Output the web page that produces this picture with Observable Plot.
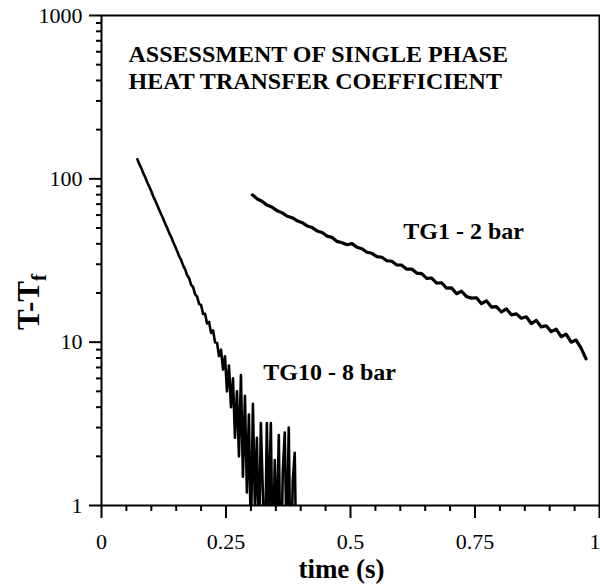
<!DOCTYPE html>
<html>
<head>
<meta charset="utf-8">
<script src="https://cdn.jsdelivr.net/npm/d3@7"></script>
<script src="https://cdn.jsdelivr.net/npm/@observablehq/plot@0.6"></script>
<style>
  html, body { margin: 0; padding: 0; background: #fff; overflow: hidden; }
  #chart { width: 600px; height: 588px; }
</style>
</head>
<body>
<div id="chart"></div>
<script>
// ---- data ----
// TG1 - 2 bar : samples every 0.01 s starting at t = 0.303 s
const tg1Start = 0.303, tg1Step = 0.01;
const tg1Values = [79.8, 75.2, 72.6, 68.8, 66.9, 63.7, 61.9, 59.0, 57.8, 55.3,
  53.9, 51.5, 50.3, 48.0, 46.9, 44.6, 43.8, 41.4, 40.6, 39.5,
  40.1, 38.1, 37.3, 35.5, 35.0, 33.4, 33.1, 31.5, 31.3, 29.7,
  29.6, 28.0, 28.0, 26.5, 26.3, 24.6, 24.7, 23.0, 23.1, 21.4,
  21.5, 19.8, 20.5, 19.0, 18.6, 18.7, 17.2, 17.9, 16.4, 16.5,
  15.3, 16.0, 14.7, 14.9, 14.0, 14.3, 13.0, 13.6, 12.4, 12.6,
  11.6, 12.0, 10.8, 11.2, 10.0, 10.3, 9.2, 7.9];

// TG10 - 8 bar : samples every 0.004 s starting at t = 0.072 s
const tg10Start = 0.072, tg10Step = 0.004;
const tg10Values = [132, 123, 116, 108, 102, 95, 89.5, 84, 78, 73.5,
  69, 64.5, 60.5, 57, 53, 50, 46.5, 44, 41, 38.5,
  36, 33.5, 31.8, 29.4, 27.9, 25.7, 24.6, 22.4, 21.7, 19.6,
  19.0, 17.1, 16.9, 14.9, 14.9, 13.0, 13.3, 11.4, 11.8, 10.0,
  9.9, 8.2, 9.0, 6.8, 8.2, 5.0, 7.2, 4.0, 6.0, 2.6,
  5.0, 2.0, 6.3, 1.5, 4.7, 1.2, 3.6, 0.6, 4.2, 1.0,
  2.6, 0.5, 3.2, 1.2, 0.4, 3.2, 0.8, 3.2, 0.4, 1.9,
  0.6, 2.7, 0.3, 1.6, 2.8, 0.5, 3.0, 0.3, 1.4, 2.1, 0.3];

const xTicks = [0, 0.25, 0.5, 0.75, 1];
const xTickLabels = ["0", "0.25", "0.5", "0.75", "1"];
const xMinorTicks = [0.05, 0.1, 0.15, 0.2, 0.3, 0.35, 0.4, 0.45, 0.55, 0.6, 0.65, 0.7, 0.8, 0.85, 0.9, 0.95];
const yTicks = [1, 10, 100, 1000];
const yTickLabels = ["1", "10", "100", "1000"];
const yMinorTicks = [2,3,4,5,6,7,8,9,20,30,40,50,60,70,80,90,200,300,400,500,600,700,800,900];

const titleLines = ["ASSESSMENT OF SINGLE PHASE", "HEAT TRANSFER COEFFICIENT"];
const seriesLabels = [
  {name: "TG1 - 2 bar", t: 0.606, v: 48},
  {name: "TG10 - 8 bar", t: 0.325, v: 6.5}
];
const xLabel = "time (s)";

// ---- build tables ----
const tg1 = tg1Values.map((v, i) => ({t: tg1Start + i * tg1Step, v}));
const tg10 = tg10Values.map((v, i) => ({t: tg10Start + i * tg10Step, v}));

const serif = "'Liberation Serif', 'Times New Roman', serif";

// frame geometry (pixels)
const W = 600, H = 588, mL = 101, mR = 1, mT = 15, mB = 83;
const pxX = 1 / (W - mL - mR);                    // one pixel in x data units
const decadePx = (H - mT - mB) / 3;               // pixels per decade on y
const below = px => Math.pow(10, -px / decadePx); // value px pixels below y = 1

const plot = Plot.plot({
  width: W,
  height: H,
  marginLeft: mL,
  marginRight: mR,
  marginTop: mT,
  marginBottom: mB,
  style: {fontFamily: serif, fontSize: "22px", background: "white", color: "black"},
  x: {domain: [0, 1], label: null},
  y: {type: "log", domain: [1, 1000], label: null},
  marks: [
    Plot.axisY(yTicks, {tickSize: 12, tickPadding: 7, stroke: "black", strokeWidth: 2,
      tickFormat: d => yTickLabels[yTicks.indexOf(d)], fontSize: 22, fill: "black"}),
    Plot.axisX(xTicks, {tickSize: 13, tickPadding: 15, stroke: "black", strokeWidth: 2,
      tickFormat: d => xTickLabels[xTicks.indexOf(d)], fontSize: 22, fill: "black"}),
    Plot.ruleY(yMinorTicks, {y: d => d, x1: -5 * pxX, x2: 0, stroke: "black", strokeWidth: 2}),
    Plot.ruleX(xMinorTicks, {x: d => d, y1: 1, y2: below(6), stroke: "black", strokeWidth: 2}),
    Plot.frame({stroke: "black", strokeWidth: 2}),
    Plot.line(tg1, {x: "t", y: "v", stroke: "black", strokeWidth: 3.2, strokeLinejoin: "round", clip: true}),
    Plot.line(tg10, {x: "t", y: "v", stroke: "black", strokeWidth: 2.6, strokeLinejoin: "round", clip: true}),
    ...titleLines.map((line, i) => Plot.text([line], {frameAnchor: "top-left", dx: 27, dy: 29 + i * 27,
      text: d => d, textAnchor: "start", lineAnchor: "top", fontWeight: "bold", fontSize: 24,
      fill: "black"})),
    Plot.text(seriesLabels, {x: "t", y: "v", text: "name", textAnchor: "start",
      fontWeight: "bold", fontSize: 24, fill: "black"}),
    Plot.text([xLabel], {frameAnchor: "bottom", dx: -9, dy: 64, text: d => d,
      lineAnchor: "middle", fontWeight: "bold", fontSize: 27, fill: "black"})
  ]
});

document.getElementById("chart").appendChild(plot);

const svg = d3.select(plot);
// keep the last x tick label inside the picture
svg.selectAll("g[aria-label='x-axis tick label'] text").filter(function() { return this.textContent === "1"; })
  .attr("text-anchor", "end").attr("dx", 1);

// y axis title with subscript
const yl = svg.append("text")
  .attr("transform", "translate(39,302) rotate(-90)")
  .attr("text-anchor", "middle")
  .attr("font-family", serif)
  .attr("font-weight", "bold")
  .attr("font-size", 31)
  .attr("fill", "black");
yl.append("tspan").text("T-T");
yl.append("tspan").attr("font-size", 21).attr("dy", 7).text("f");
</script>
</body>
</html>
